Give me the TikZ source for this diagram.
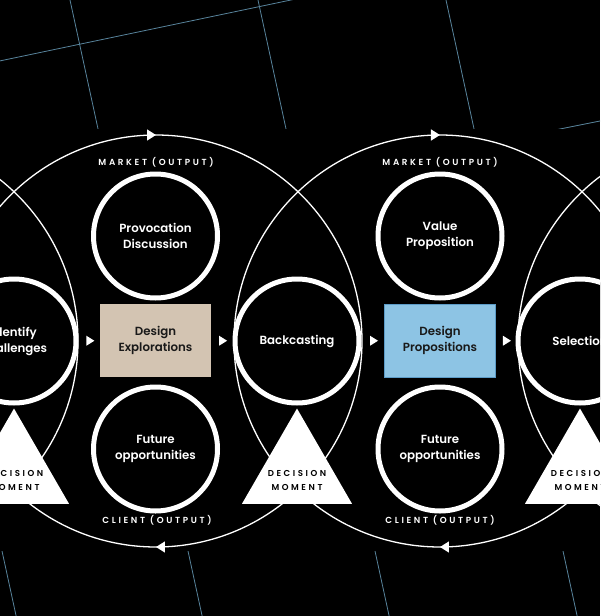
\documentclass[tikz,border=0pt]{standalone}
\usepackage{fontspec}
\setmainfont{Poppins}[BoldFont={Poppins SemiBold}]
\newfontfamily\spacedfont{Poppins}[LetterSpace=30,BoldFont={Poppins SemiBold}]
\usetikzlibrary{shapes.geometric,decorations.markings,arrows.meta}

\definecolor{gridblue}{RGB}{88,132,156}
\definecolor{sand}{RGB}{211,196,178}
\definecolor{sky}{RGB}{141,196,228}
\definecolor{skyedge}{RGB}{92,156,200}
\definecolor{ink}{RGB}{25,25,25}

\begin{document}
\begin{tikzpicture}[x=1pt,y=-1pt,
	stage/.style={circle, draw=white, line width=5pt, fill=black, minimum size=124pt, inner sep=0pt,
		text=white, align=center, font=\bfseries\fontsize{11.8}{16}\selectfont},
	choice/.style={rectangle, minimum width=111pt, minimum height=73pt, inner sep=0pt,
		text=ink, align=center, font=\bfseries\fontsize{11.8}{16}\selectfont},
	gate/.style={regular polygon, regular polygon sides=3, fill=white, minimum size=127pt, inner sep=0pt},
	gatetext/.style={text=black, align=center, font=\spacedfont\bfseries\fontsize{8.6}{14}\selectfont},
	outlabel/.style={text=white, font=\spacedfont\bfseries\fontsize{8.8}{10}\selectfont},
	tip/.style={isosceles triangle, isosceles triangle stretches, fill=white, minimum width=10pt, minimum height=8pt, inner sep=0pt},
	bigloop/.style={draw=white, line width=1.3pt, postaction={decorate},
		decoration={markings,
			mark=at position 0.25 with {\arrowreversed{Triangle[length=9pt,width=11pt]}},
			mark=at position 0.75 with {\arrowreversed{Triangle[length=9pt,width=11pt]}}}},
	gridline/.style={draw=gridblue, line width=0.8pt}
]
\clip (0,0) rectangle (600,616);
\fill[black] (0,0) rectangle (600,616);

% background grid
\draw[gridline] (-10,63) -- (310,-4);
\draw[gridline] (520,137) -- (610,119);
\foreach \x in {70,258,446}
	\draw[gridline] (\x,0) -- ++(30,138);
\foreach \x in {2,188,375,563}
	\draw[gridline] (\x,551) -- ++(15,69);
\fill[black] (0,129) rectangle (600,551);

% outer loops
\foreach \cx in {-128,156,440,724}
	\draw[bigloop] (\cx,341) circle[radius=206pt];
\node[outlabel] (mk1) at (156,162) {MARKET (OUTPUT)};
\node[outlabel] (mk2) at (440,162) {MARKET (OUTPUT)};
\node[outlabel] (cl1) at (157,520) {CLIENT (OUTPUT)};
\node[outlabel] (cl2) at (440,520) {CLIENT (OUTPUT)};

% stages
\node[stage] (idf) at (14,341) {Identify\\challenges};
\node[choice, fill=sand] (dex) at (155.5,340.5) {Design\\Explorations};
\node[stage] (back) at (297,341) {Backcasting};
\node[choice, fill=sky, draw=skyedge, line width=0.8pt] (dpr) at (440,340.5) {Design\\Propositions};
\node[stage] (sel) at (580,341) {Selection};

\node[stage] (pro) at (155.5,236) {Provocation\\Discussion};
\node[stage] (val) at (440,236) {Value\\Proposition};
\node[stage] (fut1) at (155.5,449) {Future\\opportunities};
\node[stage] (fut2) at (440,449) {Future\\opportunities};

% decision moments
\foreach \n/\x in {0/14,1/297,2/580}{
	\node[gate] (dm\n) at (\x,472) {};
	\node[gatetext] at ([yshift=-8pt]dm\n.center) {DECISION\\MOMENT};
}

% flow
\path (idf) -- node[tip]{} (dex);
\path (dex) -- node[tip]{} (back);
\path (back) -- node[tip]{} (dpr);
\path (dpr) -- node[tip]{} (sel);
\end{tikzpicture}
\end{document}
